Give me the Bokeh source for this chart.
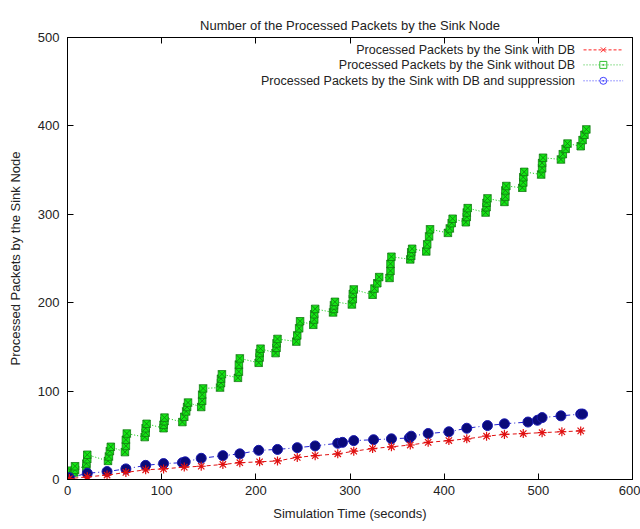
from bokeh.plotting import figure
from bokeh.models import Range1d, FixedTicker, LinearAxis, ColumnDataSource
from bokeh.core.properties import value
from bokeh.embed import file_html
from bokeh.resources import INLINE

# ---------------- data ----------------
title_text = "Number of the Processed Packets by the Sink Node"
x_label = "Simulation Time (seconds)"
y_label = "Processed Packets by the Sink Node"
series_names = [
    "Processed Packets by the Sink with DB",
    "Processed Packets by the Sink without DB",
    "Processed Packets by the Sink with DB and suppression",
]
x_ticks = [0, 100, 200, 300, 400, 500, 600]
y_ticks = [0, 100, 200, 300, 400, 500]

# with DB (red)
db_x = [0, 2, 21, 42, 62, 83, 102, 124, 142, 165, 183, 204, 223, 244, 263, 287,
        304, 324, 344, 364, 383, 405, 424, 445, 464, 484, 504, 525, 545]
db_y = [0, 1, 3, 5, 8, 11, 12, 14, 15, 17, 19, 20, 21, 25, 27, 29,
        32, 35, 37, 39, 42, 44, 46, 49, 51, 52, 53, 54, 55]

# without DB (green)
nodb_x = [1, 2, 3, 7, 8, 8,
          20, 20, 21, 21, 43, 44, 45, 46, 61, 62, 62, 63, 82, 83, 83, 84,
          102, 102, 103, 103, 122, 124, 126, 127, 128, 142, 143, 143, 144,
          162, 163, 163, 164, 181, 182, 182, 183, 203, 204, 204, 205,
          221, 222, 222, 223, 243, 244, 246, 247, 261, 262, 262, 263,
          282, 283, 283, 284, 302, 303, 303, 304, 324, 326, 329, 331,
          342, 343, 343, 344, 364, 365, 365, 366, 381, 382, 384, 385,
          404, 406, 408, 409, 423, 424, 424, 425, 444, 445, 445, 446,
          464, 465, 465, 466, 483, 484, 484, 485, 503, 504, 504, 505,
          524, 526, 529, 531, 545, 547, 549, 551]
nodb_y = [2, 6, 10, 8, 11, 15,
          13, 18, 23, 28, 21, 26, 32, 37, 31, 38, 45, 52, 48, 53, 58, 63,
          58, 62, 66, 70, 65, 71, 77, 82, 87, 82, 89, 96, 103,
          104, 109, 114, 119, 115, 122, 130, 137, 132, 138, 143, 148,
          143, 149, 154, 159, 156, 163, 171, 179, 175, 181, 187, 193,
          189, 193, 197, 201, 198, 204, 210, 215, 209, 216, 222, 229,
          228, 236, 244, 252, 249, 253, 257, 261, 258, 266, 275, 283,
          279, 284, 290, 295, 291, 297, 302, 307, 302, 308, 313, 318,
          314, 320, 327, 332, 330, 336, 342, 348, 345, 352, 358, 364,
          362, 368, 374, 380, 377, 384, 390, 396]

# with DB and suppression (blue)
sup_x = [0, 2, 21, 42, 62, 83, 102, 122, 125, 142, 165, 183, 203, 223, 244, 263,
         287, 292, 304, 325, 344, 363, 365, 383, 405, 424, 446, 464, 489, 499,
         504, 524, 545, 547]
sup_y = [0, 2, 7, 9, 12, 16, 18, 19, 20, 24, 27, 29, 33, 34, 36, 38,
         41, 42, 44, 45, 46, 47, 49, 52, 54, 58, 61, 63, 65, 67,
         70, 72, 74, 74]

FONT = "Liberation Sans"

p = figure(width=640, height=529, output_backend="svg", toolbar_location=None,
           x_range=Range1d(0, 600), y_range=Range1d(0, 500),
           min_border_left=67, min_border_right=8, min_border_top=37,
           min_border_bottom=50)
p.background_fill_color = "white"
p.border_fill_color = "white"
p.outline_line_color = "black"
p.outline_line_width = 1
p.xgrid.visible = False
p.ygrid.visible = False

p.title.text = title_text
p.title.align = "center"
p.title.text_font = FONT
p.title.text_font_size = "13px"
p.title.text_font_style = "normal"
p.title.text_color = "#222222"

for ax, ticks in ((p.xaxis[0], x_ticks), (p.yaxis[0], y_ticks)):
    ax.ticker = FixedTicker(ticks=ticks)
    ax.minor_tick_line_color = None
    ax.major_tick_in = 6
    ax.major_tick_out = 0
    ax.axis_line_color = "black"
    ax.major_tick_line_color = "black"
    ax.major_label_text_font = FONT
    ax.major_label_text_font_size = "13px"
    ax.major_label_text_color = "#222222"
    ax.axis_label_text_font = FONT
    ax.axis_label_text_font_size = "13px"
    ax.axis_label_text_font_style = "normal"
    ax.axis_label_text_color = "#222222"

p.xaxis[0].axis_label = x_label
p.yaxis[0].axis_label = y_label
p.xaxis[0].major_label_standoff = 6
p.xaxis[0].axis_label_standoff = 8
p.yaxis[0].major_label_standoff = 8
p.yaxis[0].axis_label_standoff = 12

# mirror axes (ticks only)
top = LinearAxis(ticker=FixedTicker(ticks=x_ticks))
right = LinearAxis(ticker=FixedTicker(ticks=y_ticks))
for ax, ticks in ((top, x_ticks), (right, y_ticks)):
    ax.minor_tick_line_color = None
    ax.major_tick_in = 6
    ax.major_tick_out = 0
    ax.major_label_standoff = 0
    ax.major_label_text_font_size = "0px"
    ax.major_label_overrides = {t: "" for t in ticks}
p.add_layout(top, "above")
p.add_layout(right, "right")

# series
p.line(nodb_x, nodb_y, line_color="#00c800", line_width=1, line_dash="1 2")
p.scatter(nodb_x, nodb_y, marker="square_x", size=7.5, fill_color="#14e614",
          line_color="#137a13", line_width=0.8)

p.line(sup_x, sup_y, line_color="#2020d0", line_width=1, line_dash="5 3 1 3")
p.scatter(sup_x, sup_y, marker="circle", size=10, fill_color="#0a0a7a",
          line_color="#1a1ab0", line_width=1)

p.line(db_x, db_y, line_color="#e01010", line_width=1, line_dash="4 3")
p.scatter(db_x, db_y, marker="asterisk", size=9, line_color="#e01010",
          line_width=1.2)

# legend (gnuplot style: text then sample on the right)
leg = ColumnDataSource(dict(
    name=series_names,
    ty=[486, 469, 451],
))
p.text(x=539, y="ty", text="name", source=leg, text_align="right",
       text_baseline="middle", text_font=value(FONT), text_font_size="12.5px",
       text_color="#222222")
colors = ["#ff2020", "#30c030", "#4040ff"]
dashes = ["3 2", "1 2", "1 2"]
markers = ["x", "square_dot", "circle_dot"]
for i, yy in enumerate([486, 469, 451]):
    p.line([548, 590], [yy, yy], line_color=colors[i], line_width=1,
           line_dash=dashes[i])
    p.scatter([569], [yy], marker=markers[i], size=7, line_color=colors[i],
              fill_color=None, line_width=1)

open("out.html", "w").write(file_html(p, INLINE))
